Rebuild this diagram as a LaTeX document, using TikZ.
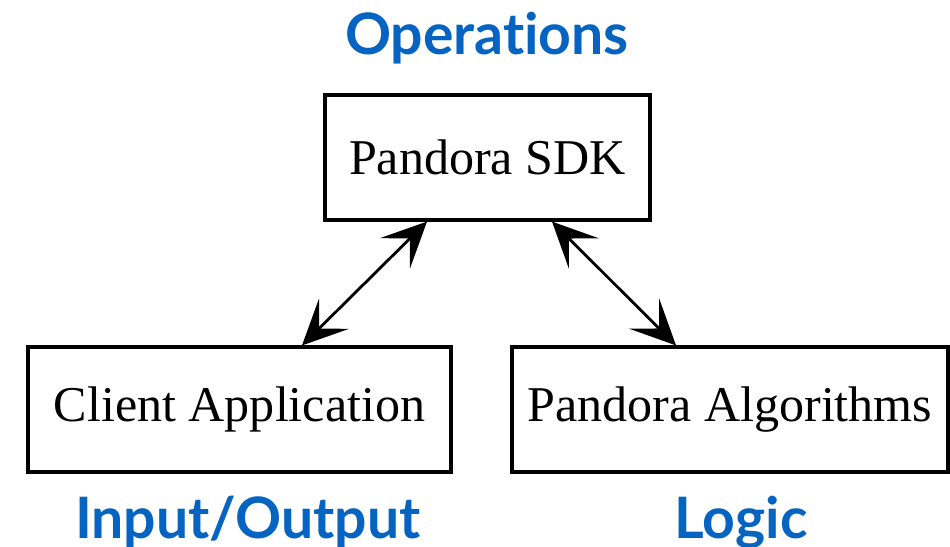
\documentclass[tikz,border=0pt]{standalone}
\usepackage{fontspec}
\setmainfont{Liberation Serif}
\newfontfamily\tagfont[Ligatures=NoCommon]{Lato}
\usetikzlibrary{arrows.meta}
\definecolor{tagblue}{RGB}{5,99,193}
\begin{document}
\begin{tikzpicture}[x=0.02cm,y=-0.02cm,
    box/.style={draw, line width=1.8pt, minimum height=2.5cm, inner sep=0pt,
        font=\fontsize{28.5}{30}\selectfont},
    tag/.style={text=tagblue, anchor=base, inner sep=0pt,
        font=\tagfont\bfseries\fontsize{32.5}{34}\selectfont},
    link/.style={{Stealth[length=0.9cm,width=0.85cm,inset=0.42cm]}-{Stealth[length=0.9cm,width=0.85cm,inset=0.42cm]},
        line width=1.6pt}]
            \useasboundingbox (0,0) rectangle (950,547);
            \node[box, minimum width=6.5cm] (sdk) at (487.5,157.5) {Pandora SDK};
            \node[box, minimum width=8.46cm] (client) at (239.5,409.5) {Client Application};
            \node[box, minimum width=8.72cm] (algo) at (730,409.5) {Pandora Algorithms};
            \draw[link] ([xshift=-1.21cm]sdk.south) -- ([xshift=1.25cm]client.north);
            \draw[link] ([xshift=1.29cm]sdk.south) -- ([xshift=-1.08cm]algo.north);
            \node[tag] (ops) at (487,55) {Operations};
            \node[tag] (io) at (248,538) {Input/Output};
            \node[tag] (logic) at (741,538) {Logic};
            \end{tikzpicture}
\end{document}
